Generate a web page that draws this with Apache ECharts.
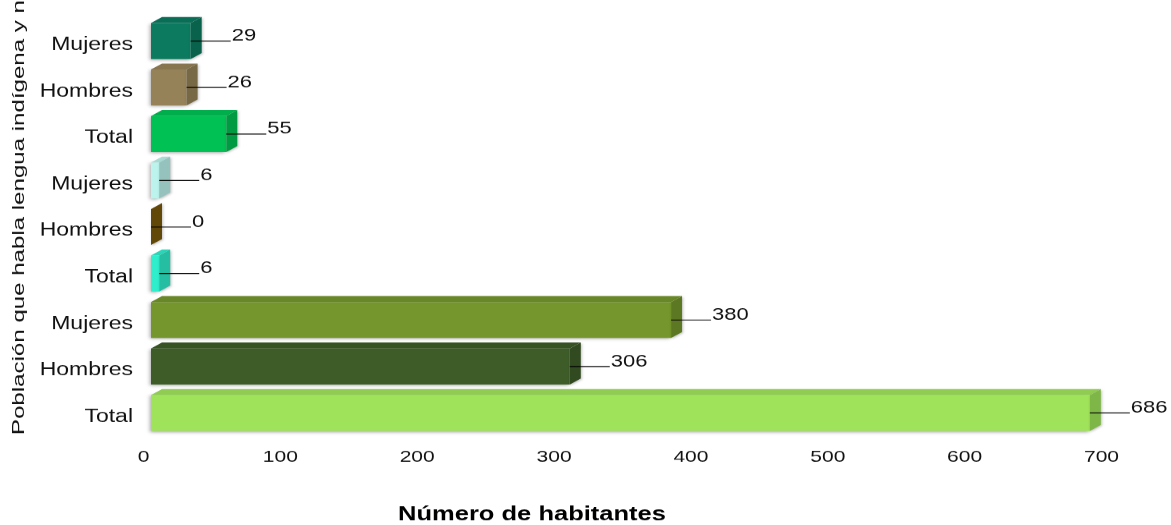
<!DOCTYPE html>
<html><head><meta charset="utf-8">
<script src="https://cdn.jsdelivr.net/npm/echarts@6/dist/echarts.min.js"></script>
<style>
html,body{margin:0;padding:0;background:#fff;overflow:hidden;width:1171px;height:525px}
#wrap{width:1171px;height:525px;overflow:hidden;position:relative}
#chart{width:1171px;height:673px;transform:scaleY(0.78);transform-origin:0 0;position:absolute;left:0;top:0}
</style></head><body><div id="wrap"><div id="chart"></div></div>
<script>
// ---- data (bottom to top) ----
const categories = ['Total', 'Hombres', 'Mujeres', 'Total', 'Hombres', 'Mujeres', 'Total', 'Hombres', 'Mujeres'];
const values = [686, 306, 380, 6, 0, 6, 55, 26, 29];
const xTicks = [0, 100, 200, 300, 400, 500, 600, 700];
const barColors = ['#9fe35a', '#3d5c28', '#74962c', '#2eeecb', '#7a5a0a', '#bcf3ed', '#00c153', '#958258', '#0b7a5f'];
const xAxisName = 'Número de habitantes';
const yAxisName = 'Población que habla lengua indígena y n';

const FONT = '"Liberation Sans", Arial, sans-serif';
function shade(hex, f) {
  const n = parseInt(hex.slice(1), 16);
  const r = Math.round(((n >> 16) & 255) * f), g = Math.round(((n >> 8) & 255) * f), b = Math.round((n & 255) * f);
  return 'rgb(' + Math.min(255, r) + ',' + Math.min(255, g) + ',' + Math.min(255, b) + ')';
}

const chart = echarts.init(document.getElementById('chart'), null, { renderer: 'canvas' });
const S = 0.78;
const DX = 11, DY = 6 / S, UP = 22 / S, DOWN = 14 / S;

chart.setOption({
  animation: false,
  backgroundColor: '#ffffff',
  grid: { left: 151, right: 62, top: 27.9, bottom: 108.6, containLabel: false },
  xAxis: {
    type: 'value', min: xTicks[0], max: xTicks[xTicks.length - 1], interval: xTicks[1] - xTicks[0],
    axisLine: { show: false }, axisTick: { show: false }, splitLine: { show: false },
    axisLabel: { margin: 11, color: '#111', fontSize: 21, fontFamily: FONT, padding: [0, 15, 0, 0] }
  },
  yAxis: {
    type: 'category', data: categories,
    axisLine: { show: false }, axisTick: { show: false }, splitLine: { show: false },
    axisLabel: { margin: 18, color: '#111', fontSize: 23, fontFamily: FONT }
  },
  graphic: [
    { type: 'text', x: 532, y: 660, style: { text: xAxisName, fill: '#000', font: 'bold 25.5px ' + FONT, align: 'center', verticalAlign: 'middle' } },
    { type: 'text', x: 19, y: 557.7, rotation: Math.PI / 2, scaleX: 1.815, style: { text: yAxisName, fill: '#111', font: '17px ' + FONT, align: 'left', verticalAlign: 'middle' } }
  ],
  series: [{
    type: 'custom',
    clip: false,
    data: values.map((v, i) => [v, i]),
    encode: { x: 0, y: 1 },
    renderItem: function (params, api) {
      const v = api.value(0), idx = api.value(1);
      const p0 = api.coord([0, idx]);
      const p1 = api.coord([v, idx]);
      const x0 = p0[0], x1 = p1[0], cy = p0[1];
      const yt = cy - UP, yb = cy + DOWN;
      const col = barColors[idx];
      const children = [];
      if (x1 > x0) {
        children.push({ type: 'rect', shape: { x: x0, y: yt, width: x1 - x0, height: yb - yt },
          style: { fill: col, shadowBlur: 4, shadowColor: 'rgba(0,0,0,0.35)', shadowOffsetX: -1, shadowOffsetY: 1 } });
        children.push({ type: 'polygon', shape: { points: [[x0, yt], [x1, yt], [x1 + DX, yt - DY], [x0 + DX, yt - DY]] },
          style: { fill: shade(col, 0.9) } });
      }
      children.push({ type: 'polygon', shape: { points: [[x1, yt], [x1 + DX, yt - DY], [x1 + DX, yb - DY], [x1, yb]] },
        style: { fill: shade(col, 0.8), shadowBlur: 3, shadowColor: 'rgba(0,0,0,0.25)', shadowOffsetX: 1, shadowOffsetY: 1 } });
      const ly = cy - 4 / S;
      children.push({ type: 'line', shape: { x1: x1, y1: ly, x2: x1 + 40, y2: ly }, style: { stroke: '#000', lineWidth: 1.2 } });
      children.push({ type: 'text', x: x1 + 41, y: ly - 5 / S, style: { text: String(v), fill: '#111', font: '22px ' + FONT, align: 'left', verticalAlign: 'middle' } });
      return { type: 'group', children: children };
    }
  }]
});
</script></body></html>
